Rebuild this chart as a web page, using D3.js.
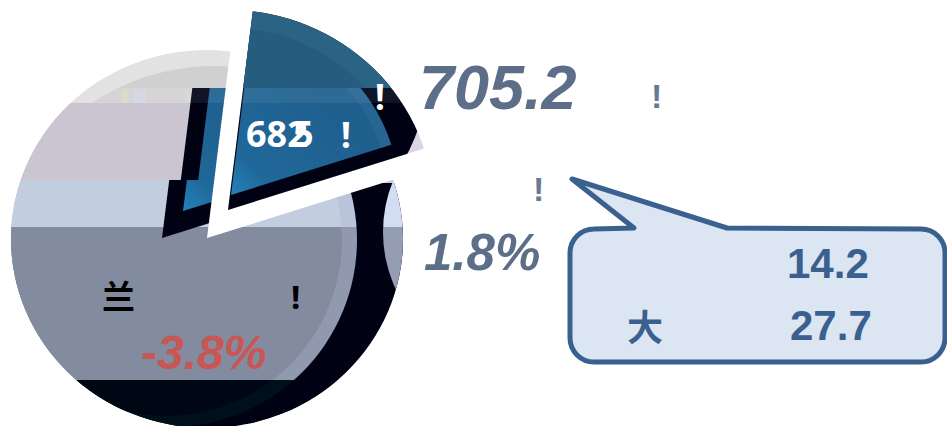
<!DOCTYPE html>
<html>
<head>
<meta charset="utf-8">
<script src="https://cdnjs.cloudflare.com/ajax/libs/d3/7.8.5/d3.min.js"></script>
<style>
html, body { margin: 0; padding: 0; background: #fff; overflow: hidden; }
text { font-family: "Liberation Sans", Arial, sans-serif; font-weight: bold; }
</style>
</head>
<body>
<script>
// values
var sliceNames = ['exploded', 'rest'];
var sliceShares = [18.2, 81.8];
var mainValue = '705.2';
var mainChange = '1.8%';
var pieValue = '682';
var pieValueTail = '5';
var pieChange = '-3.8%';
var pieName = '兰';
var calloutName = '大';
var calloutValues = ['14.2', '27.7'];
var mark = '!';

var width = 947,
    height = 426;

var svg = d3.select('body').append('svg')
    .attr('width', width)
    .attr('height', height)
    .style('display', 'block');
var defs = svg.append('defs');

var rad = Math.PI / 180;
var pie = d3.pie().sort(null).startAngle(7.1 * rad).endAngle(367.1 * rad);
var slices = pie(sliceShares);
var cut = slices[0];

function wedge(r) {
    return d3.arc().innerRadius(0).outerRadius(r)(cut);
}

function clip(id) {
    return defs.append('clipPath').attr('id', id);
}

// row limits of the glitched colour bands
var bandTops = [0, 88, 103, 180, 227, 380];
var bandBottoms = [88, 103, 180, 227, 380, 426];

function bands(parent, colours) {
    parent.selectAll('rect.band')
        .data(colours)
        .enter().append('rect')
        .attr('class', 'band')
        .attr('x', 0)
        .attr('width', width)
        .attr('y', function(d, i) { return bandTops[i] })
        .attr('height', function(d, i) { return bandBottoms[i] - bandTops[i] })
        .attr('fill', function(d) { return d });
}

clip('pie-clip').append('ellipse').attr('cx', 207).attr('cy', 239).attr('rx', 196).attr('ry', 189);
clip('ring-b').append('circle').attr('cx', 519).attr('cy', 232).attr('r', 136);
clip('ring-a').append('circle').attr('cx', 170).attr('cy', 240).attr('r', 187);
clip('ring-i').append('circle').attr('cx', 166).attr('cy', 240).attr('r', 176);
clip('ring-top').append('circle').attr('cx', 215).attr('cy', 290).attr('r', 224);
clip('row-upper').append('rect').attr('x', 0).attr('y', 88).attr('width', width).attr('height', 92);
clip('row-lower').append('rect').attr('x', 0).attr('y', 180).attr('width', width).attr('height', 100);

var blue = defs.append('linearGradient')
    .attr('id', 'blue')
    .attr('gradientUnits', 'userSpaceOnUse')
    .attr('x1', 300).attr('y1', 95)
    .attr('x2', 190).attr('y2', 215);
blue.append('stop').attr('offset', '0%').attr('stop-color', '#1f5f8e');
blue.append('stop').attr('offset', '60%').attr('stop-color', '#20689a');
blue.append('stop').attr('offset', '100%').attr('stop-color', '#2499d2');

// main pie
var main = svg.append('g').attr('clip-path', 'url(#pie-clip)');
bands(main, ['#e2e2e2', '#e2e2e2', '#cbc5d2', '#c3cde0', '#838b9f', '#000214']);
main.append('rect')
    .attr('x', 250).attr('y', 183)
    .attr('width', 170).attr('height', 243)
    .attr('fill', '#000214');
bands(main.append('g').attr('clip-path', 'url(#ring-b)'),
    ['#e2e2e2', '#e2e2e2', '#d8d6e6', '#d2dcf2', '#959db2', '#000214']);
bands(main.append('g').attr('clip-path', 'url(#ring-a)'),
    ['#e2e2e2', '#e2e2e2', '#cbc5d2', '#bac3d9', '#9199ae', '#00101a']);
bands(main.append('g').attr('clip-path', 'url(#ring-i)'),
    ['none', 'none', '#cbc5d2', '#c3cde0', '#838b9f', '#000714']);
bands(main.append('g').attr('clip-path', 'url(#ring-top)'),
    ['#d0d0d0', '#d5d5d5', 'none', 'none', 'none', 'none']);

// faint smudges left in the light row
main.append('rect').attr('x', 122).attr('y', 89).attr('width', 6).attr('height', 14).attr('fill', '#dcdccc');
main.append('rect').attr('x', 133).attr('y', 89).attr('width', 12).attr('height', 14).attr('fill', '#d8d8e4');

// dark copy of the wedge left behind on the pie
function ghost(id, cx, cy, r, fill) {
    main.append('g').attr('clip-path', 'url(#' + id + ')')
        .append('path')
        .attr('transform', 'translate(' + cx + ',' + cy + ')')
        .attr('d', wedge(r))
        .attr('fill', fill);
}
ghost('row-upper', 173.6, 238, 300, '#000214');
ghost('row-lower', 162, 238, 300, '#000214');
ghost('row-upper', 191, 238, 300, 'url(#blue)');
ghost('row-lower', 183, 211, 300, 'url(#blue)');
main.append('rect')
    .attr('x', 185).attr('y', 88)
    .attr('width', 60).attr('height', 15)
    .attr('fill', '#fff').attr('opacity', 0.07);

// white gap
svg.append('path')
    .attr('transform', 'translate(207,238)')
    .attr('d', wedge(260))
    .attr('fill', '#fff');

// exploded slice
clip('slice-clip').append('path')
    .attr('transform', 'translate(228,210)')
    .attr('d', wedge(240));
clip('slice-edge').append('ellipse').attr('cx', 228).attr('cy', 210).attr('rx', 206).attr('ry', 200);
clip('row-top').append('rect').attr('x', 0).attr('y', 0).attr('width', width).attr('height', 88);
clip('row-rest').append('rect').attr('x', 0).attr('y', 88).attr('width', width).attr('height', 200);
clip('top-inner').append('circle').attr('cx', 228).attr('cy', 215).attr('r', 187);

var slice = svg.append('g').attr('clip-path', 'url(#slice-clip)')
    .append('g').attr('clip-path', 'url(#slice-edge)');
slice.append('rect')
    .attr('x', 200).attr('y', 0)
    .attr('width', 240).attr('height', 220)
    .attr('fill', '#dcd6e4');
slice.append('circle')
    .attr('cx', 183).attr('cy', 41.5).attr('r', 251)
    .attr('fill', '#000214');
slice.append('g').attr('clip-path', 'url(#row-top)')
    .append('rect')
    .attr('x', 200).attr('y', 0)
    .attr('width', 240).attr('height', 88)
    .attr('fill', '#2a6383');
slice.append('g').attr('clip-path', 'url(#row-top)')
    .append('g').attr('clip-path', 'url(#top-inner)')
    .append('rect')
    .attr('x', 200).attr('y', 0)
    .attr('width', 240).attr('height', 88)
    .attr('fill', '#265c7d');
var inner = slice.append('g').attr('clip-path', 'url(#row-rest)');
inner.append('path')
    .attr('transform', 'translate(231,195)')
    .attr('d', wedge(168))
    .attr('fill', 'url(#blue)');
inner.append('path')
    .attr('transform', 'translate(231,195)')
    .attr('d', d3.arc().innerRadius(157).outerRadius(168)(cut))
    .attr('fill', '#fff')
    .attr('opacity', 0.04);
slice.append('rect')
    .attr('x', 200).attr('y', 88)
    .attr('width', 240).attr('height', 15)
    .attr('fill', '#fff').attr('opacity', 0.07);

// callout
var tail = [[634, 228], [572, 179], [727, 228]];
var box = { x: 570, y: 229, w: 375, h: 133, r: 24 };
var outline = d3.path();
outline.moveTo(tail[0][0], tail[0][1]);
outline.lineTo(tail[1][0], tail[1][1]);
outline.lineTo(tail[2][0], tail[2][1]);
outline.lineTo(box.x + box.w - box.r, box.y);
outline.arcTo(box.x + box.w, box.y, box.x + box.w, box.y + box.r, box.r);
outline.lineTo(box.x + box.w, box.y + box.h - box.r);
outline.arcTo(box.x + box.w, box.y + box.h, box.x + box.w - box.r, box.y + box.h, box.r);
outline.lineTo(box.x + box.r, box.y + box.h);
outline.arcTo(box.x, box.y + box.h, box.x, box.y + box.h - box.r, box.r);
outline.lineTo(box.x, box.y + box.r);
outline.arcTo(box.x, box.y, box.x + box.r, box.y, box.r);
outline.closePath();
svg.append('path')
    .attr('d', outline.toString())
    .attr('fill', '#dce6f2')
    .attr('stroke', '#3a6090')
    .attr('stroke-width', 5)
    .attr('stroke-linejoin', 'round');

// text
function label(t, x, y, size, fill, italic, family) {
    var n = svg.append('text')
        .attr('x', x).attr('y', y)
        .attr('font-size', size)
        .attr('fill', fill)
        .text(t);
    if (italic) n.attr('font-style', 'italic');
    if (family) n.style('font-family', family);
    return n;
}
var round = '"Noto Sans", sans-serif';
var cjk = '"Noto Sans CJK SC", sans-serif';

label(mainValue, 419, 109, 63, '#5d6f88', true);
label(mainChange, 424, 270, 51, '#5d6f88', true);
label(pieChange, 141, 369, 48, '#c85655', true);
label(mark, 651, 108, 34, '#6b7a90');
label(mark, 533, 201, 34, '#6b7a90');

label(pieValue, 246, 147, 36, '#fff', false, round);
label(pieValueTail, 293, 147, 36, '#fff', false, round);
label(mark, 341, 148, 35, '#fff', false, round);
label(mark, 375, 110, 35, '#fff', false, round);

label(pieName, 102, 309, 33, '#000', false, cjk);
label(mark, 291, 309, 33, '#000', false, round);

label(calloutValues[0], 787, 278, 42, '#3a6090');
label(calloutValues[1], 790, 340, 42, '#3a6090');
label(calloutName, 627, 341, 36, '#3a6090', false, cjk);
</script>
</body>
</html>
